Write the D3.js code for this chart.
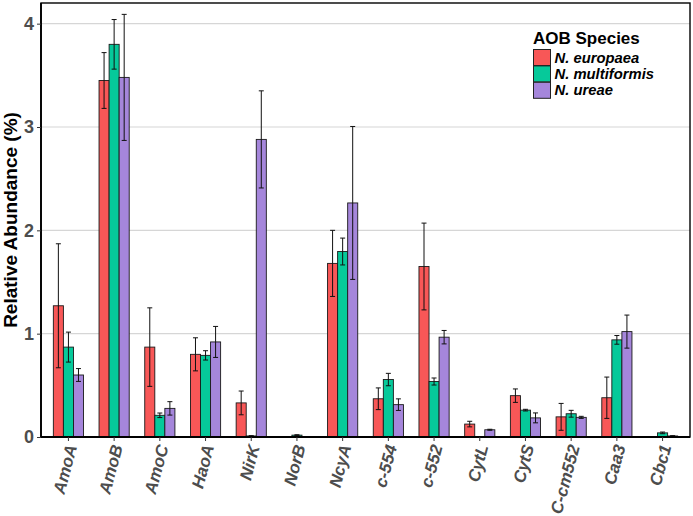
<!DOCTYPE html>
<html>
<head>
<meta charset="utf-8">
<script src="https://cdn.jsdelivr.net/npm/d3@7"></script>
<style>
  html, body { margin: 0; padding: 0; background: #fff; }
  svg { display: block; font-family: "Liberation Sans", Arial, Helvetica, sans-serif; }
</style>
</head>
<body>
<svg id="chart" width="693" height="516"></svg>
<script>
const categories = ["AmoA","AmoB","AmoC","HaoA","NirK","NorB","NcyA","c-554","c-552","CytL","CytS","C-cm552","Caa3","Cbc1"];
const species = ["N. europaea","N. multiformis","N. ureae"];
const speciesColors = ["#F85757","#06C99A","#A586DB"];
const europaea      = [1.27, 3.45, 0.87, 0.80, 0.33, 0.003, 1.68, 0.37, 1.65, 0.125, 0.40, 0.195, 0.38, 0];
const europaeaErr   = [0.60, 0.27, 0.38, 0.16, 0.115, 0, 0.32, 0.105, 0.42, 0.027, 0.065, 0.13, 0.20, 0];
const multiformis   = [0.87, 3.80, 0.21, 0.79, 0.01, 0.018, 1.795, 0.556, 0.537, 0, 0.26, 0.225, 0.94, 0.04];
const multiformisErr= [0.145, 0.24, 0.022, 0.045, 0.003, 0.004, 0.13, 0.06, 0.034, 0, 0.008, 0.033, 0.042, 0.008];
const ureae         = [0.60, 3.48, 0.277, 0.92, 2.88, 0.002, 2.265, 0.313, 0.966, 0.07, 0.185, 0.19, 1.02, 0.01];
const ureaeErr      = [0.062, 0.61, 0.065, 0.15, 0.47, 0, 0.74, 0.056, 0.065, 0.005, 0.048, 0.01, 0.16, 0.003];
const yTicks = [0, 1, 2, 3, 4];
const yTitle = "Relative Abundance (%)";
const legendTitle = "AOB Species";

const seriesValues = [europaea, multiformis, ureae];
const seriesErrs = [europaeaErr, multiformisErr, ureaeErr];

const svg = d3.select("#chart");
const L = 41, R = 690, T = 3, B = 437;

const x0 = d3.scaleBand().domain(categories).range([L, R]).paddingInner(0.34).paddingOuter(0.27);
const x1 = d3.scaleBand().domain(species).range([0, x0.bandwidth()]);
const y = d3.scaleLinear().domain([0, 4.2]).range([B, T]);
const color = d3.scaleOrdinal().domain(species).range(speciesColors);

// panel background + gridlines
svg.append("rect").attr("x", L).attr("y", T).attr("width", R - L).attr("height", B - T).attr("fill", "#fff");
svg.append("g").selectAll("line").data(yTicks.filter(d => d > 0)).join("line")
  .attr("x1", L).attr("x2", R).attr("y1", d => y(d)).attr("y2", d => y(d))
  .attr("stroke", "#D6D6D6").attr("stroke-width", 1.1);

// data table
const rows = [];
categories.forEach((c, i) => {
  species.forEach((s, j) => {
    rows.push({cat: c, sp: s, v: seriesValues[j][i], e: seriesErrs[j][i]});
  });
});

// bars
svg.append("g").selectAll("rect").data(rows.filter(d => d.v > 0)).join("rect")
  .attr("x", d => x0(d.cat) + x1(d.sp))
  .attr("y", d => y(d.v))
  .attr("width", x1.bandwidth())
  .attr("height", d => y(0) - y(d.v))
  .attr("fill", d => color(d.sp))
  .attr("stroke", "#1a1a1a").attr("stroke-width", 0.9);

// error bars
const eg = svg.append("g").attr("stroke", "#111").attr("stroke-width", 1);
rows.filter(d => d.v > 0 && d.e > 0).forEach(d => {
  const cx = x0(d.cat) + x1(d.sp) + x1.bandwidth() / 2;
  const hw = 2.5;
  eg.append("line").attr("x1", cx).attr("x2", cx).attr("y1", y(d.v + d.e)).attr("y2", y(Math.max(0, d.v - d.e)));
  eg.append("line").attr("x1", cx - hw).attr("x2", cx + hw).attr("y1", y(d.v + d.e)).attr("y2", y(d.v + d.e));
  eg.append("line").attr("x1", cx - hw).attr("x2", cx + hw).attr("y1", y(Math.max(0, d.v - d.e))).attr("y2", y(Math.max(0, d.v - d.e)));
});

// panel border
svg.append("rect").attr("x", L).attr("y", T).attr("width", R - L).attr("height", B - T)
  .attr("fill", "none").attr("stroke", "#000").attr("stroke-width", 1.4);
// axis lines
svg.append("line").attr("x1", L).attr("x2", R).attr("y1", B).attr("y2", B).attr("stroke", "#000").attr("stroke-width", 1.8);
svg.append("line").attr("x1", L).attr("x2", L).attr("y1", T).attr("y2", B).attr("stroke", "#000").attr("stroke-width", 1.8);

// y axis
const yAxis = d3.axisLeft(y).tickValues(yTicks).tickSize(4).tickPadding(3).tickFormat(d3.format("d"));
const gy = svg.append("g").attr("transform", `translate(${L},0)`).call(yAxis);
gy.select(".domain").remove();
gy.selectAll(".tick line").attr("stroke", "#333");
gy.selectAll(".tick text").attr("fill", "#4D4D4D").attr("font-size", 18).attr("font-weight", "bold");

// x axis
const xAxis = d3.axisBottom(x0).tickSize(4).tickPadding(3);
const gx = svg.append("g").attr("transform", `translate(0,${B})`).call(xAxis);
gx.select(".domain").remove();
gx.selectAll(".tick line").attr("stroke", "#333");
gx.selectAll(".tick text")
  .attr("fill", "#4D4D4D").attr("font-size", 17).attr("font-weight", "bold").attr("font-style", "italic")
  .attr("text-anchor", "end").attr("dy", "0.35em")
  .attr("transform", "translate(3,8) rotate(-75)")
  .attr("y", 0).attr("x", 0);

// y title
svg.append("text").attr("transform", `translate(17,${(T + B) / 2}) rotate(-90)`)
  .attr("text-anchor", "middle").attr("font-size", 19).attr("font-weight", "bold").attr("fill", "#000")
  .text(yTitle);

// legend
const lg = svg.append("g").attr("transform", "translate(533,0)");
lg.append("text").attr("x", 0).attr("y", 44).attr("font-size", 17).attr("font-weight", "bold").attr("fill", "#000").text(legendTitle);
species.forEach((s, j) => {
  const yy = 49.5 + j * 16.4;
  lg.append("rect").attr("x", 0.5).attr("y", yy).attr("width", 17).attr("height", 16)
    .attr("fill", color(s)).attr("stroke", "#222").attr("stroke-width", 1);
  lg.append("text").attr("x", 21.5).attr("y", yy + 13).attr("font-size", 14.8)
    .attr("font-weight", "bold").attr("font-style", "italic").attr("fill", "#000").text(s);
});
</script>
</body>
</html>
